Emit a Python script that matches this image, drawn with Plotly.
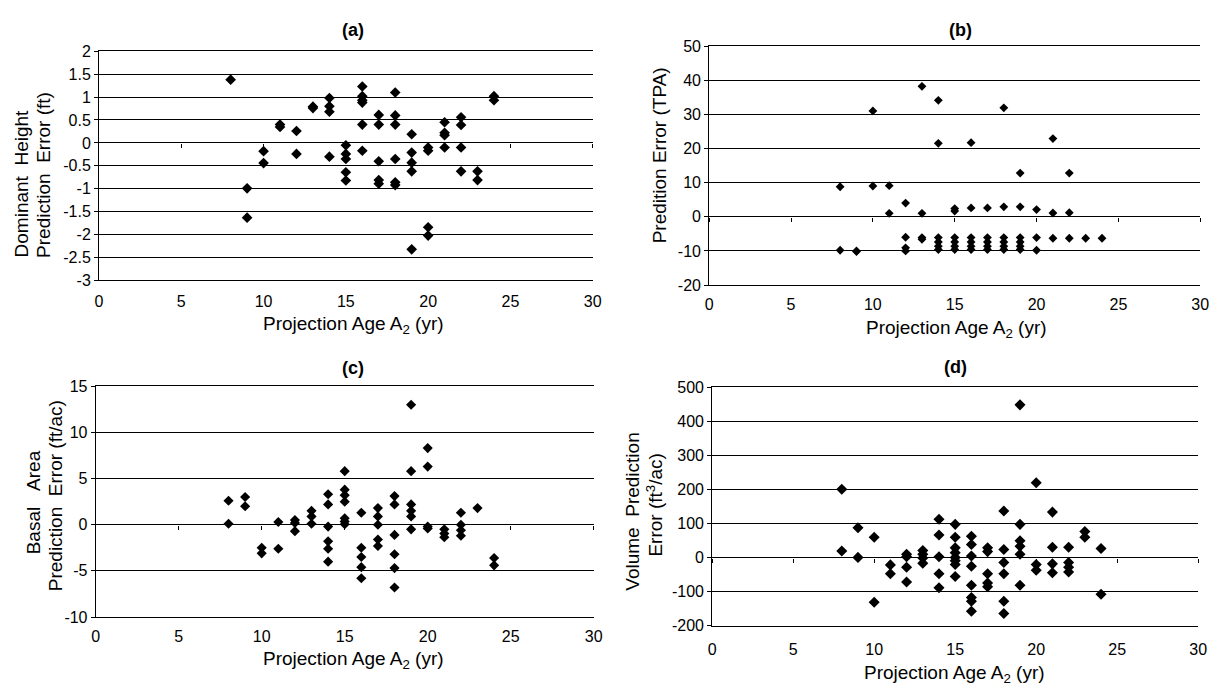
import plotly.graph_objects as go

W, H = 1231, 696
FONT = "Liberation Sans, Arial, sans-serif"

# ---------------- data ----------------
x_ticks = [0, 5, 10, 15, 20, 25, 30]

a_age = [8,
         9, 9,
         10, 10,
         11, 11,
         12, 12,
         13, 13,
         14, 14, 14, 14,
         15, 15, 15, 15, 15,
         16, 16, 16, 16, 16, 16,
         17, 17, 17, 17, 17,
         18, 18, 18, 18, 18, 18,
         19, 19, 19, 19, 19,
         20, 20, 20, 20,
         21, 21, 21, 21,
         22, 22, 22, 22,
         23, 23,
         24, 24]
a_err = [1.38,
         -0.99, -1.63,
         -0.18, -0.44,
         0.40, 0.35,
         0.26, -0.24,
         0.79, 0.76,
         0.98, 0.80, 0.68, -0.30,
         -0.05, -0.24, -0.35, -0.64, -0.82,
         1.23, 1.02, 0.93, 0.88, 0.40, -0.17,
         0.61, 0.40, -0.40, -0.81, -0.89,
         1.10, 0.60, 0.40, -0.35, -0.86, -0.92,
         0.19, -0.21, -0.43, -0.62, -2.32,
         -0.10, -0.17, -1.84, -2.02,
         0.45, 0.22, 0.17, -0.10,
         0.56, 0.39, -0.10, -0.62,
         -0.62, -0.81,
         1.02, 0.93]
a_yticks = [2, 1.5, 1, 0.5, 0, -0.5, -1, -1.5, -2, -2.5, -3]

b_age = [8, 8,
         9, 9,
         10, 10,
         11, 11,
         12, 12, 12, 12,
         13, 13, 13, 13,
         14, 14, 14, 14, 14, 14,
         15, 15, 15, 15, 15, 15,
         16, 16, 16, 16, 16, 16,
         17, 17, 17, 17, 17,
         18, 18, 18, 18, 18, 18,
         19, 19, 19, 19, 19, 19,
         20, 20, 20,
         21, 21, 21,
         22, 22, 22,
         23,
         24]
b_err = [8.8, -9.8,
         -10.0, -10.2,
         31.0, 9.0,
         9.1, 1.0,
         4.0, -6.0, -9.1, -10.0,
         38.2, 1.0, -6.1, -6.6,
         34.1, 21.5, -6.1, -7.4, -8.6, -9.6,
         2.4, 1.7, -6.1, -7.4, -8.6, -9.6,
         21.7, 2.6, -6.1, -7.4, -8.6, -9.6,
         2.6, -6.1, -7.4, -8.6, -9.6,
         31.9, 2.9, -6.1, -7.4, -8.6, -9.6,
         12.8, 2.9, -6.1, -7.4, -8.6, -9.6,
         2.1, -6.1, -9.8,
         22.9, 1.1, -6.3,
         12.8, 1.2, -6.3,
         -6.3,
         -6.3]
b_yticks = [50, 40, 30, 20, 10, 0, -10, -20]

c_age = [8, 8,
         9, 9,
         10, 10,
         11, 11,
         12, 12, 12,
         13, 13, 13,
         14, 14, 14, 14, 14, 14,
         15, 15, 15, 15, 15, 15, 15,
         16, 16, 16, 16, 16,
         17, 17, 17, 17, 17,
         18, 18, 18, 18, 18, 18,
         19, 19, 19, 19, 19, 19,
         20, 20, 20, 20,
         21, 21, 21,
         22, 22, 22, 22,
         23,
         24, 24]
c_err = [2.6, 0.1,
         3.0, 2.0,
         -2.5, -3.1,
         0.3, -2.6,
         0.5, 0.2, -0.7,
         1.5, 0.9, 0.1,
         3.3, 2.2, -0.2, -1.8, -2.6, -4.0,
         5.8, 3.8, 3.2, 2.5, 0.7, 0.35, 0.05,
         1.3, -2.5, -3.5, -4.6, -5.8,
         1.8, 0.9, 0.0, -1.6, -2.3,
         3.1, 2.2, -1.1, -3.2, -4.7, -6.8,
         13.0, 5.8, 2.2, 1.5, 0.9, -0.5,
         8.3, 6.3, -0.2, -0.4,
         -0.5, -0.95, -1.35,
         1.3, 0.0, -0.6, -1.2,
         1.8,
         -3.6, -4.4]
c_yticks = [15, 10, 5, 0, -5, -10]

d_age = [8, 8,
         9, 9,
         10, 10,
         11, 11,
         12, 12, 12, 12,
         13, 13, 13, 13,
         14, 14, 14, 14, 14,
         15, 15, 15, 15, 15, 15, 15, 15,
         16, 16, 16, 16, 16, 16, 16, 16,
         17, 17, 17, 17, 17,
         18, 18, 18, 18, 18, 18,
         19, 19, 19, 19, 19, 19,
         20, 20, 20,
         21, 21, 21, 21,
         22, 22, 22, 22,
         23, 23,
         24, 24]
d_err = [201, 20,
         88, 1,
         60, -131,
         -21, -47,
         10, 3, -28, -71,
         21, 10, -1, -16,
         113, 67, 3, -47, -88,
         98, 60, 29, 15, 1, -9, -20, -55,
         63, 39, 5, -25, -81, -117, -128, -157,
         29, 18, -47, -74, -85,
         137, 24, -14, -47, -128, -164,
         449, 98, 50, 34, 10, -81,
         220, -20, -37,
         134, 31, -18, -44,
         31, -14, -28, -42,
         77, 60,
         27, -107]
d_yticks = [500, 400, 300, 200, 100, 0, -100, -200]

panel_titles = ["(a)", "(b)", "(c)", "(d)"]
x_title = "Projection Age A<sub>2</sub> (yr)"
y_titles = [
    ["Dominant\u00a0\u00a0Height", "Prediction\u00a0\u00a0Error (ft)"],
    ["Predition Error (TPA)"],
    ["Basal\u00a0\u00a0\u00a0Area", "Prediction\u00a0\u00a0Error (ft/ac)"],
    ["Volume\u00a0\u00a0Prediction", "Error (ft<sup>3</sup>/ac)"],
]

# ---------------- layout geometry (pixels) ----------------
panels = [
    dict(x=a_age, y=a_err, yt=a_yticks, px=(96, 595), py=(44.3, 279.3), ms=8.2,
         title_pos=(353, 23), xt_pos=(353, 325),
         yt_pos=[(18, 180), (40, 171.5)], xstand=6),
    dict(x=b_age, y=b_err, yt=b_yticks, px=(712.7, 1209), py=(39, 284), ms=6.8,
         title_pos=(967, 23), xt_pos=(963, 329),
         yt_pos=[(662, 151)], xstand=5),
    dict(x=c_age, y=c_err, yt=c_yticks, px=(92.7, 596), py=(387.7, 624.3), ms=7.8,
         title_pos=(353, 369), xt_pos=(353, 668),
         yt_pos=[(30, 507), (52, 500)], xstand=5),
    dict(x=d_age, y=d_err, yt=d_yticks, px=(715.7, 1207), py=(389, 633.3), ms=8.5,
         title_pos=(962, 368), xt_pos=(961, 683),
         yt_pos=[(635, 516), (657, 510)], xstand=9),
]


def fmt(v):
    return "%g" % v  # plain hyphen-minus like the original


def fx(p):
    return p / W


def fy(p):
    return 1 - p / H


fig = go.Figure()
layout = dict(
    width=W, height=H, autosize=False,
    margin=dict(l=0, r=0, t=0, b=0),
    paper_bgcolor="white", plot_bgcolor="white",
    showlegend=False,
    font=dict(family=FONT, color="black", size=16),
)
annotations = []

for i, p in enumerate(panels):
    n = i + 1
    ov = n + 4
    xs = "" if n == 1 else str(n)
    ys = "" if n == 1 else str(n)
    assert len(p["x"]) == len(p["y"])
    fig.add_trace(go.Scatter(
        x=p["x"], y=p["y"], mode="markers",
        marker=dict(symbol="diamond", size=p["ms"], color="black", line=dict(width=0)),
        xaxis="x" + xs, yaxis="y" + ys, hoverinfo="x+y",
    ))
    # empty trace registering the overlay axis that carries tick marks on the zero line
    fig.add_trace(go.Scatter(x=[], y=[], xaxis="x%d" % ov, yaxis="y" + ys,
                             hoverinfo="skip", showlegend=False))

    ymin, ymax = min(p["yt"]), max(p["yt"])
    xdom = [fx(p["px"][0]), fx(p["px"][1])]
    ydom = [fy(p["py"][1]), fy(p["py"][0])]
    zero_pos = ydom[0] + (0 - ymin) / (ymax - ymin) * (ydom[1] - ydom[0])

    layout["xaxis" + xs] = dict(
        domain=xdom, anchor="y" + ys, range=[0, 30],
        tickmode="array", tickvals=x_ticks, ticktext=[fmt(v) for v in x_ticks],
        showgrid=False, zeroline=False,
        showline=True, linecolor="black", linewidth=1, mirror=True,
        ticks="outside", ticklen=p["xstand"], tickcolor="rgba(0,0,0,0)",
        tickfont=dict(size=16, family=FONT, color="black"),
        fixedrange=True,
    )
    layout["xaxis%d" % ov] = dict(
        domain=xdom, overlaying="x" + xs, anchor="free", position=zero_pos,
        range=[0, 30], tickmode="array", tickvals=x_ticks,
        showticklabels=False, showgrid=False, zeroline=False, showline=False,
        ticks="outside", ticklen=4, tickcolor="black", tickwidth=1,
        fixedrange=True,
    )
    layout["yaxis" + ys] = dict(
        domain=ydom, anchor="x" + xs, range=[ymin, ymax],
        tickmode="array", tickvals=p["yt"], ticktext=[fmt(v) for v in p["yt"]],
        showgrid=True, gridcolor="black", gridwidth=1,
        zeroline=True, zerolinecolor="black", zerolinewidth=1,
        showline=True, linecolor="black", linewidth=1,
        ticks="outside", ticklen=4, tickcolor="black", tickwidth=1,
        tickfont=dict(size=16, family=FONT, color="black"),
        fixedrange=True,
    )

    tx, ty = p["title_pos"]
    annotations.append(dict(
        text="<b>%s</b>" % panel_titles[i], x=fx(tx), y=fy(ty),
        xref="paper", yref="paper", xanchor="center", yanchor="middle",
        showarrow=False, font=dict(size=18, family=FONT, color="black")))
    xx, xy = p["xt_pos"]
    annotations.append(dict(
        text=x_title, x=fx(xx), y=fy(xy),
        xref="paper", yref="paper", xanchor="center", yanchor="middle",
        showarrow=False, font=dict(size=19, family=FONT, color="black")))
    for line, (lx, ly) in zip(y_titles[i], p["yt_pos"]):
        annotations.append(dict(
            text=line, x=fx(lx), y=fy(ly), textangle=-90,
            xref="paper", yref="paper", xanchor="center", yanchor="middle",
            showarrow=False, font=dict(size=19, family=FONT, color="black")))

layout["annotations"] = annotations
fig.update_layout(**layout)
fig.write_html("out.html", config={"displayModeBar": False},
               post_script="document.body.style.margin='0';")
